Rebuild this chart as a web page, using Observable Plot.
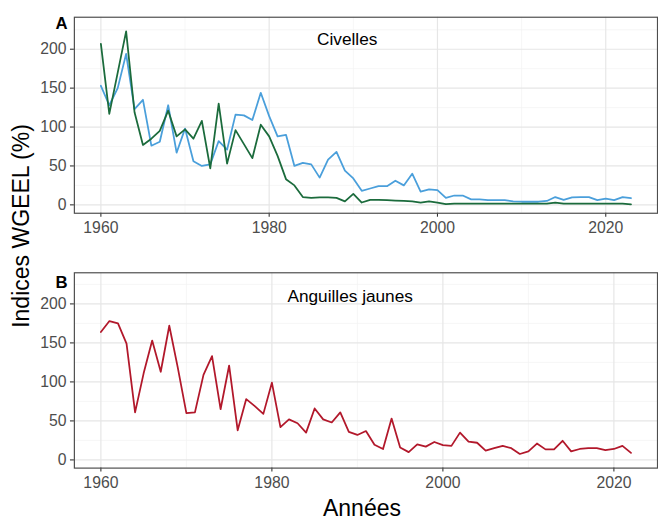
<!DOCTYPE html>
<html><head><meta charset="utf-8">
<script src="https://cdn.jsdelivr.net/npm/d3@7"></script>
<script src="https://cdn.jsdelivr.net/npm/@observablehq/plot@0.6"></script>
<style>
html,body{margin:0;padding:0;background:#fff;overflow:hidden;}
#wrap{position:relative;width:658px;height:519px;overflow:hidden;font-family:"Liberation Sans",Arial,sans-serif;background:#fff;}
#a,#b{position:absolute;left:0;}
#a{top:0px} #b{top:245px}
.ytitle{position:absolute;left:21px;top:226px;transform:translate(-50%,-50%) rotate(-90deg);font-size:23px;white-space:nowrap;color:#000;}
.xtitle{position:absolute;left:362px;top:508px;transform:translate(-50%,-50%);font-size:23px;white-space:nowrap;color:#000;}
</style>
</head><body>
<div id="wrap"><div id="a"></div><div id="b"></div>
<div class="ytitle">Indices WGEEL (%)</div>
<div class="xtitle">Années</div>
</div>
<script>
const yearsA = [1960,1961,1962,1963,1964,1965,1966,1967,1968,1969,1970,1971,1972,1973,1974,1975,1976,1977,1978,1979,1980,1981,1982,1983,1984,1985,1986,1987,1988,1989,1990,1991,1992,1993,1994,1995,1996,1997,1998,1999,2000,2001,2002,2003,2004,2005,2006,2007,2008,2009,2010,2011,2012,2013,2014,2015,2016,2017,2018,2019,2020,2021,2022,2023];
const civellesBleu = [153,128,150,194,123,135,76,81,128,67,98,56,50,52,82,71,116,115,109,144,114,88,90,50,54,52,35,58,68,44,34,18,21,24,24,31,25,40,17,20,19,9,12,12,7,7,6,6,6,4.5,4,4,4,5,10,6.5,9.5,10,10,6,8,6,10,8.5];
const civellesVert = [207,117,170,223,119,77,85,95,121,88,97,85,108,47,130,53,96,78,60,103,88,63,33,25,10,9,9.5,9.5,9,4.5,14,3,6.5,6.5,6,5.5,5,4.5,3,4.5,3,1,1.5,1.5,1.5,1.5,1.5,1.5,1.5,1.5,1.5,1.5,1.5,1.5,3,1.5,1.5,1.5,1.5,1.5,1.5,1.5,1.5,0.5];
const yearsB = [1960,1961,1962,1963,1964,1965,1966,1967,1968,1969,1970,1971,1972,1973,1974,1975,1976,1977,1978,1979,1980,1981,1982,1983,1984,1985,1986,1987,1988,1989,1990,1991,1992,1993,1994,1995,1996,1997,1998,1999,2000,2001,2002,2003,2004,2005,2006,2007,2008,2009,2010,2011,2012,2013,2014,2015,2016,2017,2018,2019,2020,2021,2022];
const anguillesJaunes = [164,178,175,149,61,111,153,113,172,118,60,61,109,133,65,121,38,78,69,59,99,42,52,47,35,66,52,48,61,36,32,37,19.5,14,53,16,10,20,17,23,19,18,35,23.5,22,12,15,18,15,7.6,11,21,13.5,13.5,24.5,11,14,15,15,12.6,14,18,9];
const xTicks = [1960,1980,2000,2020];
const xMinor = [1970,1990,2010];
const yTicks = [0,50,100,150,200];
const yMinor = [25,75,125,175,225];
const panelLetters = ["A","B"];
const stripTitles = ["Civelles","Anguilles jaunes"];

function panel({lines, domainX, domainY, height, mt, mb, letter, strip, stripDx, stripDy, letterDy}) {
  return Plot.plot({
    width: 668, height, marginLeft: 75, marginRight: 1, marginTop: mt, marginBottom: mb,
    style: {fontFamily: "'Liberation Sans', Arial, sans-serif", fontSize: "16px", background: "transparent", overflow: "visible"},
    x: {domain: domainX, label: null},
    y: {domain: domainY, label: null},
    marks: [
      Plot.gridX(xMinor, {stroke: "#f2f2f2", strokeOpacity: 1, strokeWidth: 0.7}),
      Plot.gridY(yMinor, {stroke: "#f2f2f2", strokeOpacity: 1, strokeWidth: 0.7}),
      Plot.gridX(xTicks, {stroke: "#e6e6e6", strokeOpacity: 1, strokeWidth: 1.2}),
      Plot.gridY(yTicks, {stroke: "#e6e6e6", strokeOpacity: 1, strokeWidth: 1.2}),
      Plot.axisX(xTicks, {tickSize: 4, tickPadding: 5, tickFormat: d => String(d), fill: "#4d4d4d", stroke: "#333", strokeWidth: 1.1, fontSize: 16, label: null}),
      Plot.axisY(yTicks, {tickSize: 4, tickPadding: 4, fill: "#4d4d4d", stroke: "#333", strokeWidth: 1.1, fontSize: 16, label: null}),
      ...lines.map(l => Plot.lineY(l.values, {x: l.years, stroke: l.color, strokeWidth: 1.8})),
      Plot.frame({stroke: "#4d4d4d", strokeWidth: 1.2}),
      Plot.text([strip], {frameAnchor: "top", lineAnchor: "middle", dx: stripDx, dy: stripDy, fontSize: 17.5, fill: "#000"}),
      Plot.text([letter], {frameAnchor: "top-left", lineAnchor: "middle", textAnchor: "middle", dx: -13, dy: letterDy, fontSize: 17, fontWeight: "bold", fill: "#000"})
    ]
  });
}

document.getElementById("a").append(panel({
  lines: [
    {years: yearsA, values: civellesBleu, color: "#4a9fdb"},
    {years: yearsA, values: civellesVert, color: "#1b6b3c"}
  ],
  domainX: [1956.85, 2026.15], domainY: [-10.8, 241.1],
  height: 245, mt: 17, mb: 29, letter: panelLetters[0], strip: stripTitles[0], stripDx: -19, stripDy: 23, letterDy: 7
}));
document.getElementById("b").append(panel({
  lines: [
    {years: yearsB, values: anguillesJaunes, color: "#b2182b"}
  ],
  domainX: [1956.9, 2025.1], domainY: [-10.5, 239.9],
  height: 274, mt: 27.7, mb: 48, letter: panelLetters[1], strip: stripTitles[1], stripDx: -16, stripDy: 24, letterDy: 10
}));
</script>
</body></html>
